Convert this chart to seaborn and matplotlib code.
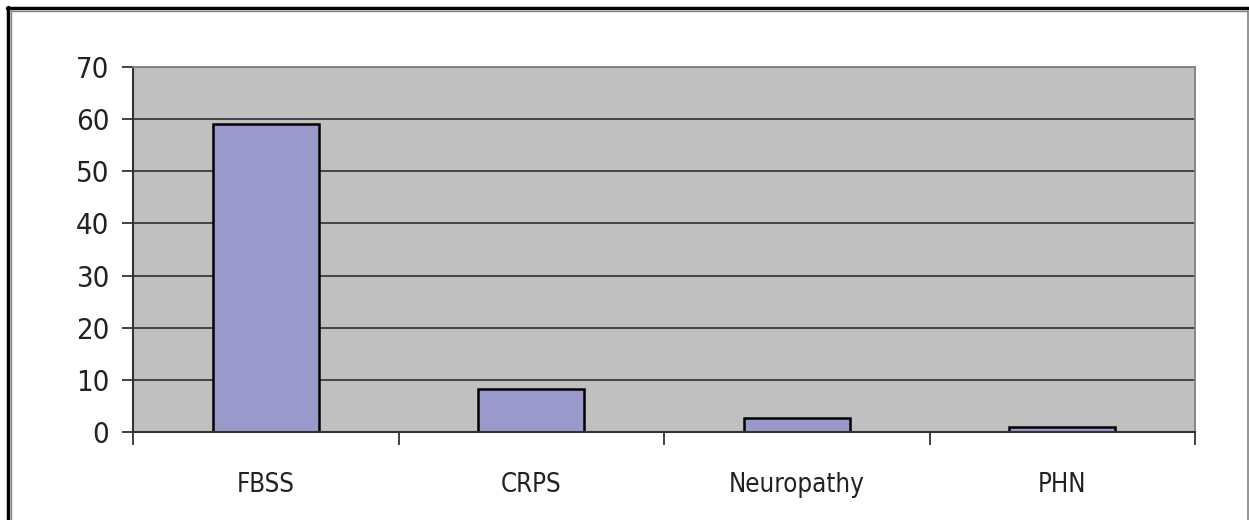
import pandas as pd
import matplotlib
matplotlib.use("Agg")
import matplotlib.pyplot as plt
from matplotlib.lines import Line2D
import seaborn as sns

# Data
categories = ["FBSS", "CRPS", "Neuropathy", "PHN"]
values = [59, 8.2, 2.7, 1.0]
y_ticks = [0, 10, 20, 30, 40, 50, 60, 70]

df = pd.DataFrame({"group": categories, "count": values})

sns.set_style("white")
plt.rcParams["font.family"] = ["DejaVu Sans"]
plt.rcParams["font.stretch"] = "condensed"

fig = plt.figure(figsize=(12.49, 5.2), dpi=100)
ax = fig.add_axes([133 / 1249, 1 - 432 / 520, (1195 - 133) / 1249, (432 - 67) / 520])
ax.set_facecolor("#C0C0C0")

sns.barplot(data=df, x="group", y="count", color="#9999CC", width=0.4,
            edgecolor="black", linewidth=1.8, saturation=1, ax=ax)

ax.set_xlim(-0.5, len(categories) - 0.5)
ax.set_ylim(0, 70)
ax.set_yticks(y_ticks)
ax.set_yticklabels([str(t) for t in y_ticks], fontsize=21, color="#222222")
ax.set_xticklabels(categories, fontsize=18.5, color="#222222")
ax.set_xlabel("")
ax.set_ylabel("")

# gridlines
ax.yaxis.grid(True, color="#3a3a3a", linewidth=1.3)
ax.set_axisbelow(True)

# ticks: y outward, x ticks between categories
ax.tick_params(axis="y", length=8, width=1.3, color="#333333", pad=9, left=True)
ax.tick_params(axis="x", which="major", length=0, pad=29)
ax.set_xticks([i - 0.5 for i in range(len(categories) + 1)], minor=True)
ax.tick_params(axis="x", which="minor", length=9, width=1.3, color="#333333", bottom=True)

for side in ["left", "bottom"]:
    ax.spines[side].set_color("#333333")
    ax.spines[side].set_linewidth(1.5)
for side in ["top", "right"]:
    ax.spines[side].set_color("#808080")
    ax.spines[side].set_linewidth(1.3)

# outer frame like the original figure border
W, H = 1249, 520
fig.add_artist(Line2D([7 / W, 1], [1 - 7.5 / H, 1 - 7.5 / H], color="black", linewidth=2.5))
fig.add_artist(Line2D([7.5 / W, 7.5 / W], [0, 1 - 7 / H], color="black", linewidth=2.5))
fig.add_artist(Line2D([11 / W, 1247 / W], [1 - 11 / H, 1 - 11 / H], color="#808080", linewidth=1))
fig.add_artist(Line2D([11 / W, 11 / W], [0, 1 - 11 / H], color="#808080", linewidth=1))
fig.add_artist(Line2D([1247.5 / W, 1247.5 / W], [0, 1 - 11 / H], color="#808080", linewidth=1.2))

fig.savefig("out.png", dpi=100, facecolor="white")
